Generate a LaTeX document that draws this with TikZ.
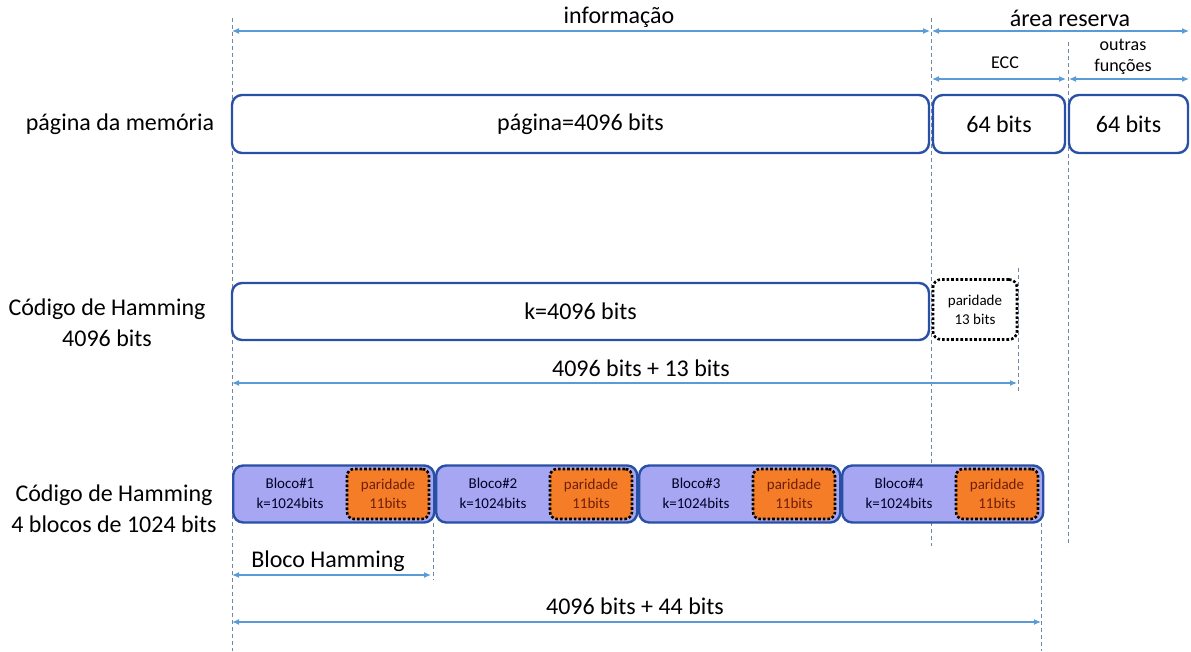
\documentclass[tikz,border=0pt]{standalone}
\usepackage{fontspec}
\setmainfont{Carlito}
\usetikzlibrary{arrows.meta}
\definecolor{boxblue}{RGB}{40,80,165}
\definecolor{dimblue}{RGB}{91,155,213}
\definecolor{guide}{RGB}{110,135,170}
\definecolor{blockfill}{RGB}{166,166,242}
\definecolor{parorange}{RGB}{245,125,40}
\definecolor{partext}{RGB}{110,30,10}
\tikzset{
  membox/.style={draw=boxblue, line width=2.4pt, rounded corners=10pt, fill=white,
    inner sep=0pt, font=\fontsize{24}{26}\selectfont},
  parbox/.style={draw=black, line width=2.6pt, dotted, rounded corners=8pt, fill=white,
    inner sep=0pt, align=center, font=\fontsize{15}{19}\selectfont},
  blockbox/.style={draw=boxblue, line width=2.4pt, rounded corners=10pt, fill=blockfill,
    inner sep=0pt, minimum width=201pt, minimum height=57pt},
  orangebox/.style={draw=black, line width=2.6pt, dotted, rounded corners=7pt, fill=parorange,
    inner sep=0pt, minimum width=82pt, minimum height=50pt, align=center,
    text=partext, font=\fontsize{15}{19}\selectfont},
  blocktext/.style={align=center, text=black!85!blue, font=\fontsize{15}{20}\selectfont},
  dim/.style={draw=dimblue, line width=1.2pt, {Latex[length=7pt,width=6pt]}-{Latex[length=7pt,width=6pt]}},
  guideline/.style={draw=guide, line width=0.8pt, dash pattern=on 4pt off 3pt},
  lbl/.style={align=center, font=\fontsize{24}{31}\selectfont},
  small/.style={align=center, font=\fontsize{18}{21}\selectfont},
}
\begin{document}
\begin{tikzpicture}[x=1pt,y=-1pt]
\useasboundingbox (0,0) rectangle (1191,651);

% vertical guide lines
\coordinate (g1t) at (232,18);   \coordinate (g1b) at (232,651);
\coordinate (g2t) at (931,18);   \coordinate (g2b) at (931,546);
\coordinate (g3t) at (1068,42);  \coordinate (g3b) at (1068,546);
\coordinate (g4t) at (1018,268); \coordinate (g4b) at (1018,392);
\coordinate (g5t) at (433,523);  \coordinate (g5b) at (433,580);
\coordinate (g6t) at (1041,523); \coordinate (g6b) at (1041,651);
\foreach \i in {1,...,6} \draw[guideline] (g\i t) -- (g\i b);

% top dimension arrows
\coordinate (infL) at (232,31);  \coordinate (infR) at (930,31);
\coordinate (resL) at (932,31);  \coordinate (resR) at (1189,31);
\coordinate (eccL) at (932,79);  \coordinate (eccR) at (1066,79);
\coordinate (outL) at (1069,79); \coordinate (outR) at (1189,79);
\draw[dim] (infL) -- (infR);
\draw[dim] (resL) -- (resR);
\draw[dim] (eccL) -- (eccR);
\draw[dim] (outL) -- (outR);
\node[lbl] (tinf) at (619,17) {informação};
\node[lbl] (tres) at (1070,18) {área reserva};
\node[small] (tecc) at (1005,63) {ECC};
\node[small] (tout) at (1123,57) {outras\\funções};

% memory page
\node[lbl] (lpag) at (120,124) {página da memória};
\node[membox, minimum width=697pt, minimum height=58pt] (pag) at (580.5,124) {página=4096 bits};
\node[membox, minimum width=132pt, minimum height=58pt] (ecc) at (999,124) {64 bits};
\node[membox, minimum width=119pt, minimum height=58pt] (out) at (1128.5,124) {64 bits};

% Hamming code over the whole page
\node[lbl] (lham) at (107,323) {Código de Hamming\\4096 bits};
\node[membox, minimum width=697pt, minimum height=57pt] (kbox) at (580.5,311.5) {k=4096 bits};
\node[parbox, minimum width=84pt, minimum height=60pt] (par) at (975,309.5) {paridade\\13 bits};
\coordinate (d13L) at (232,383); \coordinate (d13R) at (1017,383);
\draw[dim] (d13L) -- (d13R);
\node[lbl] (t13) at (641,368) {4096 bits + 13 bits};

% four Hamming blocks of 1024 bits
\node[lbl] (lblk) at (114,509) {Código de Hamming\\4 blocos de 1024 bits};
\foreach \n/\x in {1/232,2/435,3/638,4/841} {
  \node[blockbox, anchor=west] (b\n) at (\x,494) {};
  \node[blocktext] (bt\n) at (\x+58,493) {Bloco\#\n\\k=1024bits};
  \node[orangebox] (o\n) at (\x+156,494) {paridade\\11bits};
}
\coordinate (hbL) at (232,575); \coordinate (hbR) at (431,575);
\draw[dim] (hbL) -- (hbR);
\node[lbl] (thb) at (328,561) {Bloco Hamming};
\coordinate (d44L) at (232,622); \coordinate (d44R) at (1041,622);
\draw[dim] (d44L) -- (d44R);
\node[lbl] (t44) at (635,606) {4096 bits + 44 bits};
\end{tikzpicture}
\end{document}
